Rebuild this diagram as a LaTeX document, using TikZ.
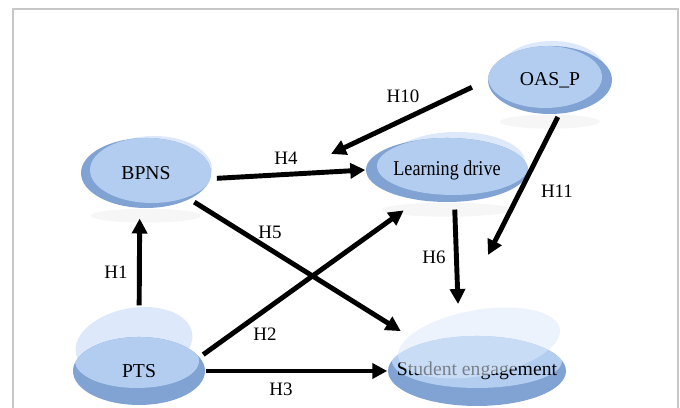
\documentclass[tikz,border=0pt]{standalone}
\usepackage{fontspec}
\setmainfont{Liberation Serif}
\usetikzlibrary{arrows.meta}
\usetikzlibrary{shapes.geometric}
\usetikzlibrary{backgrounds}
\definecolor{blobdark}{RGB}{128,163,212}
\definecolor{blobmid}{RGB}{178,205,239}
\definecolor{blobglow}{RGB}{221,233,250}

\begin{document}
\begin{tikzpicture}[>={Triangle[length=0.15cm, width=0.15cm]},
    construct/.style={ellipse, inner sep=0pt, font=\fontsize{5.6}{6}\selectfont},
    hyp/.style={->, line width=1.4pt},
    hlabel/.style={inner sep=0pt, font=\fontsize{5.4}{6}\selectfont}]
    \useasboundingbox (0,0) rectangle (6.8,4.08);
    % the grey frame, bottom runs off the page
    \draw [black!22, line width=0.3pt] (0.13,-0.2) rectangle (6.78,3.99);

    % constructs (long texts in a 0pt box so the ellipse keeps its size)
    \node [construct, minimum width=1.24cm, minimum height=0.68cm] (oas) at (5.50,3.28) {OAS\_P};
    \node [construct, minimum width=1.30cm, minimum height=0.70cm] (bpns) at (1.46,2.35) {BPNS};
    \node [construct, minimum width=1.62cm, minimum height=0.64cm,
           font=\fontsize{6}{7}\selectfont\addfontfeature{FakeStretch=0.86}] (ld) at (4.47,2.38) {\makebox[0pt]{Learning drive}};
    \node [construct, minimum width=1.32cm, minimum height=0.68cm] (pts) at (1.39,0.37) {PTS};
    \node [construct, minimum width=1.78cm, minimum height=0.70cm] (se) at (4.77,0.37) {\makebox[0pt]{Student engagement}};

    % the blue blobs go behind the text
    \begin{scope}[on background layer]
        % soft shadows
        \fill [black, opacity=0.035] ([yshift=-0.07cm]oas.south) ellipse [x radius=0.5, y radius=0.07];
        \fill [black, opacity=0.035] ([yshift=-0.07cm]bpns.south) ellipse [x radius=0.55, y radius=0.07];
        \fill [black, opacity=0.035] ([yshift=-0.07cm]ld.south) ellipse [x radius=0.65, y radius=0.07];

        % faint glow peeking out on top
        \fill [blobglow] ([shift={(0.02,0.06)}]oas.center) ellipse [x radius=0.55, y radius=0.33];
        \fill [blobglow] ([shift={(0.08,0.04)}]bpns.center) ellipse [x radius=0.58, y radius=0.33];
        \fill [blobglow] ([shift={(0.10,0.08)}]ld.center) ellipse [x radius=0.68, y radius=0.30];
        \begin{scope}[shift={(pts.center)}]
            \fill [blobglow, rotate around={10:(-0.05,0.28)}] (-0.05,0.28) ellipse [x radius=0.59, y radius=0.35];
        \end{scope}

        % OAS_P
        \fill [blobdark] (oas.center) ellipse [x radius=0.62, y radius=0.34];
        \begin{scope}
            \clip (oas.center) ellipse [x radius=0.62, y radius=0.34];
            \fill [blobmid] ([shift={(-0.05,0.03)}]oas.center) ellipse [x radius=0.57, y radius=0.31];
        \end{scope}
        % BPNS
        \fill [blobdark] (bpns.center) ellipse [x radius=0.65, y radius=0.35];
        \begin{scope}
            \clip (bpns.center) ellipse [x radius=0.65, y radius=0.35];
            \fill [blobmid] ([shift={(0.06,0.03)}]bpns.center) ellipse [x radius=0.62, y radius=0.33];
        \end{scope}
        % Learning drive
        \fill [blobdark] (ld.center) ellipse [x radius=0.81, y radius=0.32];
        \begin{scope}
            \clip (ld.center) ellipse [x radius=0.81, y radius=0.32];
            \fill [blobmid] ([shift={(0.06,0.04)}]ld.center) ellipse [x radius=0.76, y radius=0.29];
        \end{scope}
        % PTS
        \fill [blobdark] (pts.center) ellipse [x radius=0.66, y radius=0.34];
        \begin{scope}
            \clip (pts.center) ellipse [x radius=0.66, y radius=0.34];
            \fill [blobmid] ([shift={(-0.02,0.10)}]pts.center) ellipse [x radius=0.62, y radius=0.27];
        \end{scope}
        % Student engagement
        \fill [blobdark] (se.center) ellipse [x radius=0.89, y radius=0.35];
        \begin{scope}
            \clip (se.center) ellipse [x radius=0.89, y radius=0.35];
            \fill [blobmid] ([shift={(0,0.10)}]se.center) ellipse [x radius=0.85, y radius=0.27];
        \end{scope}
    \end{scope}

    % see-through cap over Student engagement (greys out the start of the text)
    \begin{scope}[shift={(se.center)}]
        \fill [blobglow, opacity=0.55, rotate around={10:(0.02,0.28)}] (0.02,0.28) ellipse [x radius=0.82, y radius=0.33];
    \end{scope}

    % H10 and H11 point at the H4 and H6 paths
    \coordinate (h4mod) at (3.31,2.54);
    \coordinate (h6mod) at (4.88,1.53);

    % hypotheses
    \draw [hyp, shorten <=0.31cm, shorten >=0.10cm] (pts.north) -- (bpns.260);
    \draw [hyp, shorten <=0.04cm, shorten >=0.17cm] (pts.13) -- (ld.226);
    \draw [hyp] (pts.east) -- (se.west);
    \draw [hyp, shorten <=0.06cm] (bpns.-5) -- (ld.west);
    \draw [hyp, shorten <=0.05cm, shorten >=0.23cm] (bpns.-31) -- (se.154);
    \draw [hyp, shorten <=0.07cm, shorten >=0.32cm] (ld.-77) -- (se.117);
    \draw [hyp, shorten <=0.17cm] (oas.west) -- (h4mod);
    \draw [hyp, shorten <=0.03cm] (oas.-75) -- (h6mod);

    \node [hlabel] (l1) at (1.16,1.36) {H1};
    \node [hlabel] (l2) at (2.65,0.74) {H2};
    \node [hlabel] (l3) at (2.81,0.19) {H3};
    \node [hlabel] (l4) at (2.86,2.50) {H4};
    \node [hlabel] (l5) at (2.70,1.76) {H5};
    \node [hlabel] (l6) at (4.34,1.51) {H6};
    \node [hlabel] (l10) at (4.03,3.12) {H10};
    \node [hlabel] (l11) at (5.57,2.17) {H11};
\end{tikzpicture}
\end{document}
